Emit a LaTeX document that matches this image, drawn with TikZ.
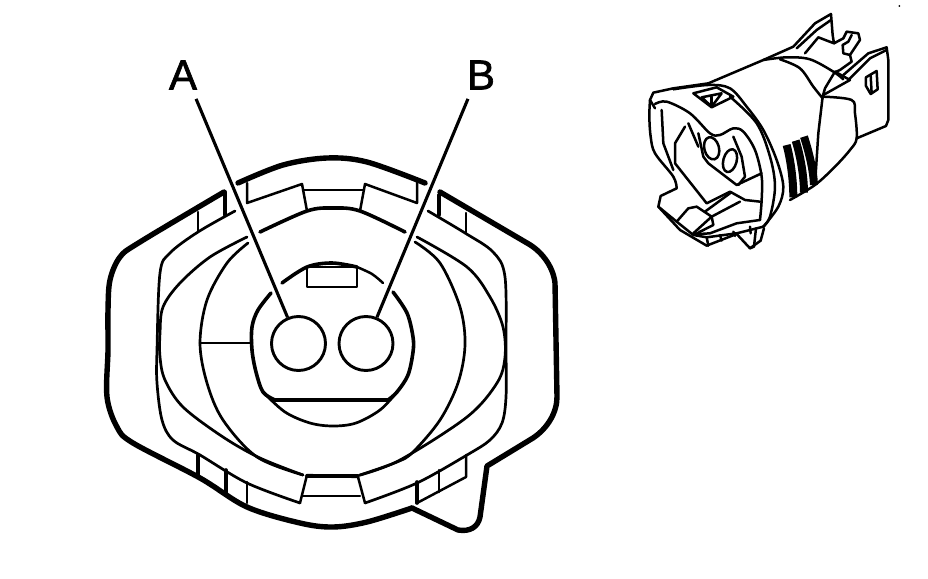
\documentclass[tikz,border=0pt]{standalone}
\usepackage{fontspec}
\setmainfont{Liberation Sans}
\tikzset{
  heavy/.style={line width=5.4pt,line join=round,line cap=round},
  mid/.style={line width=3.6pt,line join=round,line cap=round},
  thin/.style={line width=2.7pt,line join=round,line cap=round},
  sk/.style={line width=2.5pt,line join=round,line cap=round},
  lab/.style={inner sep=0pt,font=\fontsize{42}{42}\selectfont\addfontfeature{FakeBold=1.5}},
  hole/.style={circle,draw,line width=2.9pt,minimum size=54pt,inner sep=0pt},
  lead/.style={line width=3.1pt,shorten <=10pt}
}
\def\sm#1{plot[smooth,tension=.55] coordinates {#1}}
\begin{document}
\begin{tikzpicture}[x=1pt,y=-1pt]
\useasboundingbox (0,0) rectangle (928,578);
% outer housing
\draw[heavy] \sm{(238,183)(283,165)(327,158)(367,162)(425,183)};
\draw[heavy] \sm{(224,192)(140,242)(120,257)(110,280)(108,310)(108,350)(107,397)(117,427)(133,443)(200,478)(247,507)(300,523)(333,527)(367,522)(412,508)};
\draw[heavy] (412,508) -- (458,530) .. controls (470,532) and (478,527) .. (480,517) -- (487,466) -- (533,438) .. controls (548,428) and (557,412) .. (557,397) -- (556,340) -- (555,283) .. controls (553,265) and (540,250) .. (527,243) -- (440,192);
% second outline
\draw[thin] \sm{(235,211)(198,232)(170,253)(160,273)(157,350)(157,383)(162,420)(173,440)(200,455)(247,483)(300,503)};
\draw[thin] \sm{(428,211)(465,233)(493,252)(505,277)(506,350)(506,397)(502,423)(490,440)(467,455)(417,483)(365,503)};
% third outline
\draw[thin] \sm{(247,237)(210,257)(180,283)(163,307)(160,333)(160,357)(165,380)(183,407)(223,437)(260,458)(303,475)};
\draw[thin] \sm{(417,237)(467,267)(490,297)(503,327)(505,357)(497,383)(467,417)(400,460)(360,475)};
% large circle
\draw[thin] \sm{(248,243)(227,263)(207,300)(200,343)(207,383)(223,420)(257,457)(303,475)};
\draw[thin] \sm{(415,242)(440,263)(460,307)(465,345)(458,383)(440,420)(413,452)(397,462)(360,475)};
% top ring
\draw[mid] \sm{(260,232)(307,211)(333,208)(360,211)(405,232)};
% top tabs
\draw[sk] (247,183) -- (247,203) -- (302,184) -- (307,211);
\draw[sk] (417,182) -- (417,203) -- (365,184) -- (360,211);
\draw[sk] (303,190) -- (363,190);
\draw[mid] (225,192) -- (225,215);
\draw[sk] (198,212) -- (198,232);
\draw[mid] (439,195) -- (439,215);
\draw[sk] (466,213) -- (466,233);
% bottom tabs
\draw[mid] (198,455) -- (198,475);
\draw[mid] (226,470) -- (226,493);
\draw[sk] (247,482) -- (247,503);
\draw[sk] (300,503) -- (307,475) -- (358,477) -- (365,503);
\draw[mid] (307,476) -- (358,476);
\draw[sk] (303,496) -- (360,496);
\draw[mid] (417,482) -- (417,503);
\draw[sk] (439,470) -- (439,492);
\draw[sk] (466,455) -- (466,477) -- (417,503);
% centre barrel
\draw[mid] \sm{(282,283)(307,267)(332,263)(357,267)};
\draw[sk] \sm{(357,267)(372,274)(383,283)};
\draw[mid] \sm{(271,293)(258,310)(252,327)(252,350)(256,372)(263,392)(275,400)};
\draw[mid] \sm{(393,292)(407,313)(413,337)(413,352)(408,375)(397,392)(388,400)};
\draw[thin] \sm{(263,392)(285,412)(310,423)(333,426)(356,423)(380,410)(397,392)};
\draw[mid] (275,400) -- (388,400);
\draw[sk] (307,267) rectangle (357,287);
\draw[thin] (200,343) -- (252,343);
% contacts
\node[hole] (holeA) at (298.5,343.5) {};
\node[hole] (holeB) at (366,343.5) {};
\node[lab] (A) at (183,75) {A};
\node[lab] (B) at (481,75) {B};
\draw[lead] ([xshift=-5pt]A.south east) -- (holeA);
\draw[lead] ([xshift=5pt]B.south west) -- (holeB);
% perspective view
\begin{scope}[shift={(630,0)},x=.3333pt,y=-.3333pt]
\fill (808,18) circle (3);
% silhouette
\draw[sk] (75,325) -- (60,300) -- (70,278) -- (130,265) -- (235,250) -- (400,180) -- (490,140) -- (555,70) -- (603,42) -- (608,105) -- (612,130) -- (565,112) -- (525,160);
\draw[sk] (500,145) -- (560,90) -- (603,60);
\draw[sk] (612,130) -- (640,115) -- (650,95) -- (685,100) -- (690,120) -- (660,165) -- (640,160) -- (638,135) -- (655,125) -- (665,105);
\draw[sk] (660,165) -- (665,185) -- (630,210) -- (612,218);
\draw[sk] (640,225) -- (715,160) -- (770,142) -- (775,180) -- (775,360) -- (768,378) -- (680,415);
\draw[sk] (655,240) -- (720,175) -- (770,150);
\draw[sk] (660,240) -- (580,285);
\draw[sk] (615,215) -- (660,240);
% slot
\draw[sk] (708,232) -- (740,213) -- (743,268) -- (722,282) -- (708,258) -- cycle;
\draw[sk] (722,225) -- (725,280);
% body
\draw[sk] \sm{(400,180)(470,172)(540,178)(610,215)(640,238)};
\draw[sk] \sm{(450,178)(510,205)(550,260)(578,295)};
\draw[sk] (615,215) -- (585,265) -- (578,290);
\draw[sk] (578,290) -- (565,400) -- (555,555);
\draw[sk] \sm{(578,290)(665,300)(675,340)(680,415)(660,450)(615,500)(555,555)(480,600)};
% ribs
\draw[line width=8pt] (470,435) .. controls (482,480) and (490,540) .. (490,592);
\draw[line width=8pt] (497,422) .. controls (512,470) and (522,530) .. (522,578);
\draw[line width=8pt] (522,410) .. controls (538,460) and (550,510) .. (552,555);
% front rim
\draw[sk] \sm{(60,300)(58,350)(62,410)(75,460)(130,530)(140,565)};
\draw[sk] (140,565) -- (92,588) -- (85,620) -- (150,690) -- (230,737) -- (320,702) -- (360,745) -- (372,740) -- (378,685);
\draw[sk] (360,745) -- (392,722) -- (402,685);
\draw[sk] (95,330) -- (100,430) -- (130,510);
\draw[sk] \sm{(75,312)(110,305)(180,340)(240,400)(270,405)(310,385)(340,395)(375,450)(395,530)(395,600)(390,660)};
\draw[sk] \sm{(130,268)(235,255)(300,265)(350,320)(400,390)(440,480)(460,560)(445,620)(400,680)};
\draw[sk] \sm{(300,290)(380,370)(420,470)(435,560)(420,650)(400,680)};
\draw[sk] (400,680) -- (320,700) -- (230,712) -- (190,705) -- (140,665) -- (85,620);
\draw[sk] (390,660) -- (320,670) -- (240,700) -- (195,703);
% top window
\draw[sk] (190,280) -- (260,262) -- (310,290) -- (245,322) -- cycle;
\draw[sk] (215,292) -- (275,280) -- (245,320) -- cycle;
\draw[sk] (245,290) -- (245,320);
% inner
\draw[sk] (205,400) -- (220,470) -- (235,490) -- (320,555) -- (395,520);
\draw[sk] (310,410) -- (335,470) -- (345,530) -- (325,555);
\draw[sk] (245,445) ellipse [x radius=22,y radius=34,rotate=15];
\draw[sk] (300,482) ellipse [x radius=20,y radius=35,rotate=-15];
\draw[sk] (165,380) -- (135,430) -- (135,490) -- (230,610) -- (300,575) -- (345,600) -- (390,605);
\draw[sk] (175,370) -- (205,440);
% lower tab
\draw[sk] (175,625) -- (140,665);
\draw[sk] (175,625) -- (200,620) -- (245,650) -- (190,700);
\draw[sk] (225,635) -- (300,580);
\draw[sk] (245,650) -- (330,605);
\draw[sk] (245,650) -- (250,675) -- (195,703);
\draw[sk] (230,712) -- (235,737);
\draw[sk] (270,705) -- (275,722);
\draw[sk] (310,695) -- (315,708);
\draw[sk] (360,680) -- (362,700);
\end{scope}
\end{tikzpicture}
\end{document}
